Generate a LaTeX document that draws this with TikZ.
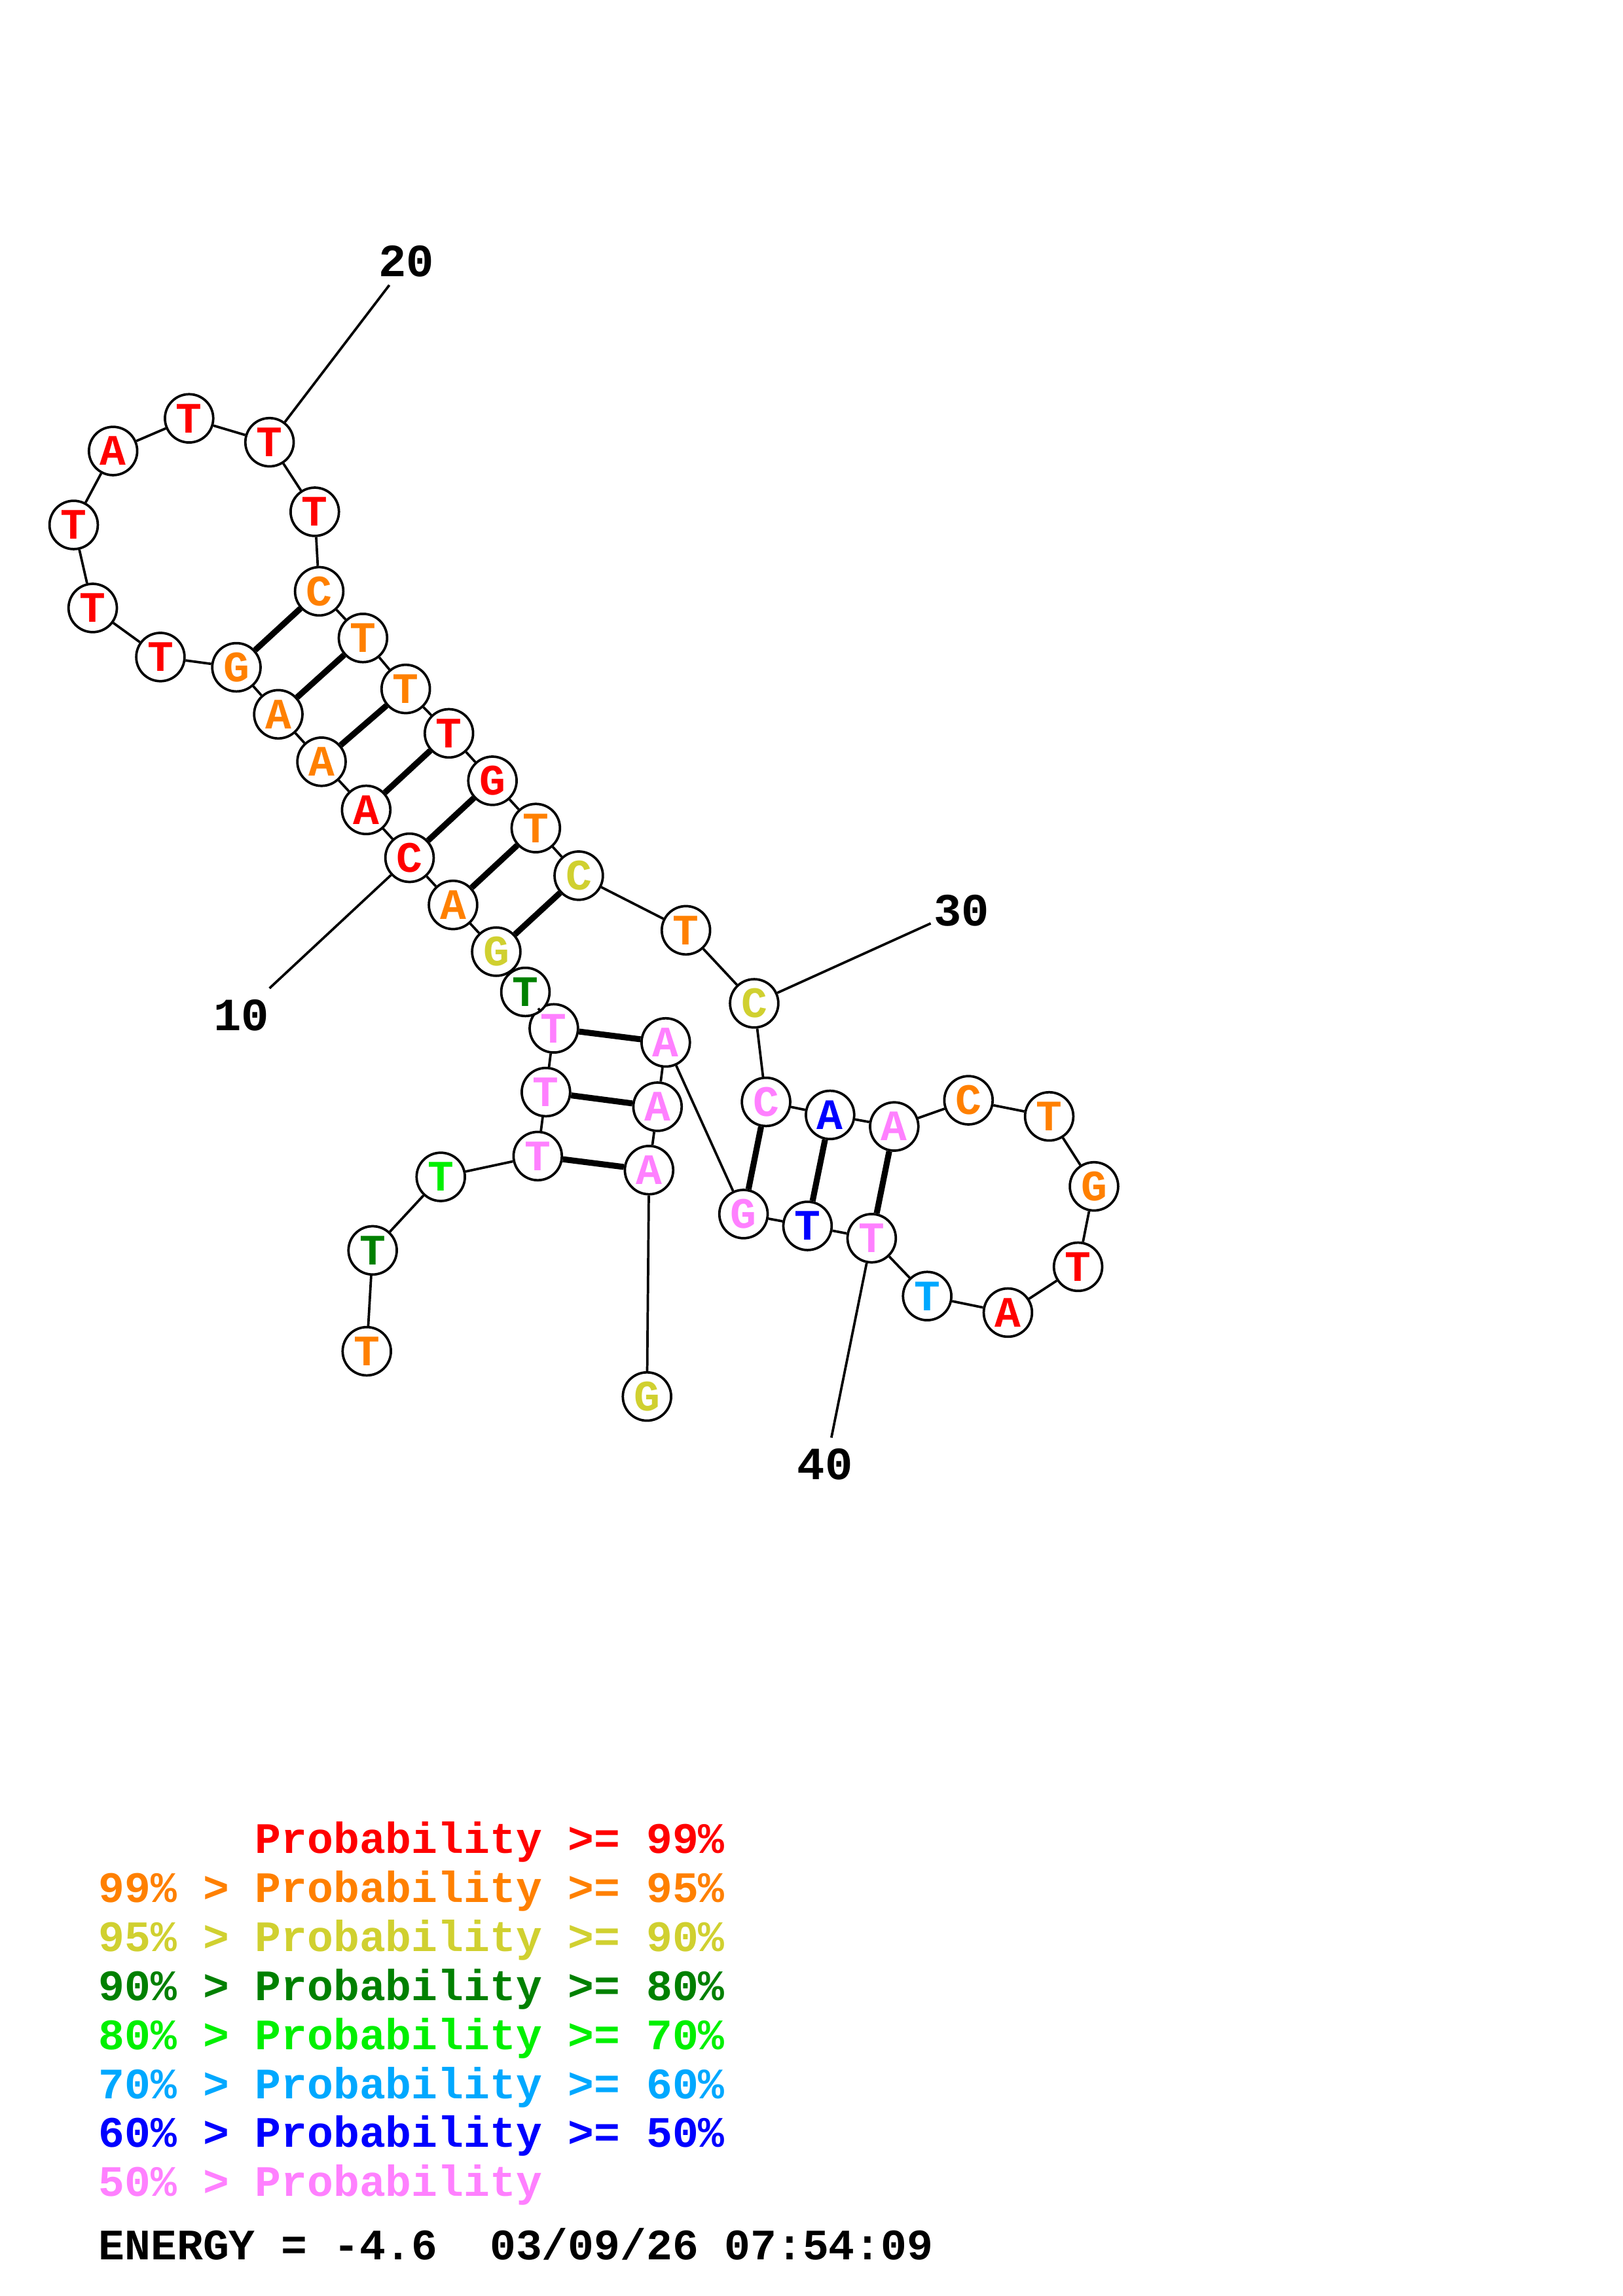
\documentclass[tikz,border=0pt]{standalone}
\usepackage{fontspec}
\setmonofont{Liberation Mono}
\usepackage{tikz}

\definecolor{pr99}{RGB}{255,0,0}
\definecolor{pr95}{RGB}{255,128,0}
\definecolor{pr90}{RGB}{208,208,48}
\definecolor{pr80}{RGB}{0,128,0}
\definecolor{pr70}{RGB}{0,240,0}
\definecolor{pr60}{RGB}{0,168,255}
\definecolor{pr50}{RGB}{0,0,255}
\definecolor{prlo}{RGB}{255,128,255}

\tikzset{
	nt/.style={circle, draw=black, line width=0.9pt, fill=white, minimum size=0.625cm, inner sep=0pt, font=\ttfamily\bfseries\fontsize{16}{16}\selectfont},
	backbone/.style={line width=0.9pt},
	bond/.style={line width=2.2pt},
	numlabel/.style={inner sep=0pt, font=\ttfamily\bfseries\fontsize{17}{17}\selectfont},
	legendline/.style={anchor=base west, inner sep=0pt, font=\ttfamily\bfseries\fontsize{16}{16}\selectfont}
}

\begin{document}
\frenchspacing
\begin{tikzpicture}[x=0.018953cm, y=-0.018953cm]
			%%%%% START %%%%%
			\useasboundingbox (0,0) rectangle (1108,1568);
			
			% 5' tail and inner stem
			\node[nt, text=pr95] (n1) at (250.4, 922.8) {T};
			\node[nt, text=pr80] (n2) at (254.4, 853.9) {T};
			\node[nt, text=pr70] (n3) at (300.9, 803.7) {T};
			\node[nt, text=prlo] (n4) at (367.1, 789.5) {T};
			\node[nt, text=prlo] (n5) at (372.7, 745.8) {T};
			\node[nt, text=prlo] (n6) at (378.1, 702.3) {T};
			\node[nt, text=pr80] (n7) at (358.7, 677.4) {T};
			\node[nt, text=pr90] (n8) at (338.8, 649.9) {G};
			\node[nt, text=pr95] (n9) at (309.3, 618.0) {A};
			\node[nt, text=pr99] (n10) at (279.6, 585.8) {C};
			\node[nt, text=pr99] (n11) at (250.0, 553.1) {A};
			\node[nt, text=pr95] (n12) at (219.5, 520.2) {A};
			\node[nt, text=pr95] (n13) at (190.0, 487.8) {A};
			\node[nt, text=pr95] (n14) at (161.4, 455.7) {G};
			
			% hairpin loop
			\node[nt, text=pr99] (n15) at (109.5, 448.7) {T};
			\node[nt, text=pr99] (n16) at (63.3, 415.2) {T};
			\node[nt, text=pr99] (n17) at (50.3, 358.5) {T};
			\node[nt, text=pr99] (n18) at (77.2, 308.0) {A};
			\node[nt, text=pr99] (n19) at (129.1, 285.7) {T};
			\node[nt, text=pr99] (n20) at (184.0, 302.0) {T};
			\node[nt, text=pr99] (n21) at (214.9, 349.5) {T};
			
			% long stem, other strand
			\node[nt, text=pr95] (n22) at (217.9, 403.8) {C};
			\node[nt, text=pr95] (n23) at (247.8, 435.7) {T};
			\node[nt, text=pr95] (n24) at (277.0, 470.5) {T};
			\node[nt, text=pr99] (n25) at (306.5, 500.8) {T};
			\node[nt, text=pr99] (n26) at (336.2, 533.2) {G};
			\node[nt, text=pr95] (n27) at (365.8, 565.5) {T};
			\node[nt, text=pr90] (n28) at (395.1, 598.0) {C};
			\node[nt, text=pr95] (n29) at (468.3, 635.3) {T};
			\node[nt, text=pr90] (n30) at (514.9, 685.2) {C};
			
			% right hairpin
			\node[nt, text=prlo] (n31) at (523.0, 752.5) {C};
			\node[nt, text=pr50] (n32) at (566.7, 761.4) {A};
			\node[nt, text=prlo] (n33) at (610.5, 769.3) {A};
			\node[nt, text=pr95] (n34) at (661.2, 751.4) {C};
			\node[nt, text=pr95] (n35) at (716.3, 762.4) {T};
			\node[nt, text=pr95] (n36) at (746.9, 810.2) {G};
			\node[nt, text=pr99] (n37) at (736.0, 865.1) {T};
			\node[nt, text=pr99] (n38) at (688.1, 896.4) {A};
			\node[nt, text=pr60] (n39) at (633.0, 885.1) {T};
			\node[nt, text=prlo] (n40) at (595.1, 845.6) {T};
			\node[nt, text=pr50] (n41) at (551.3, 837.2) {T};
			\node[nt, text=prlo] (n42) at (507.6, 829.1) {G};
			
			% 3' side
			\node[nt, text=prlo] (n43) at (454.5, 711.9) {A};
			\node[nt, text=prlo] (n44) at (448.9, 755.8) {A};
			\node[nt, text=prlo] (n45) at (443.1, 799.1) {A};
			\node[nt, text=pr90] (n46) at (441.7, 953.7) {G};
			
			% backbone
			\draw[backbone] (n1) -- (n2) -- (n3) -- (n4) -- (n5) -- (n6) -- (n7) -- (n8) -- (n9) -- (n10) -- (n11) -- (n12) -- (n13) -- (n14) -- (n15) -- (n16);
			\draw[backbone] (n16) -- (n17) -- (n18) -- (n19) -- (n20) -- (n21) -- (n22) -- (n23) -- (n24) -- (n25) -- (n26) -- (n27) -- (n28) -- (n29) -- (n30) -- (n31);
			\draw[backbone] (n31) -- (n32) -- (n33) -- (n34) -- (n35) -- (n36) -- (n37) -- (n38) -- (n39) -- (n40) -- (n41) -- (n42) -- (n43) -- (n44) -- (n45) -- (n46);
			
			% pairs
			\draw[bond] (n8) -- (n28);
			\draw[bond] (n9) -- (n27);
			\draw[bond] (n10) -- (n26);
			\draw[bond] (n11) -- (n25);
			\draw[bond] (n12) -- (n24);
			\draw[bond] (n13) -- (n23);
			\draw[bond] (n14) -- (n22);
			\draw[bond] (n4) -- (n45);
			\draw[bond] (n5) -- (n44);
			\draw[bond] (n6) -- (n43);
			\draw[bond] (n31) -- (n42);
			\draw[bond] (n32) -- (n41);
			\draw[bond] (n33) -- (n40);
			
			% numbering
			\coordinate (t10) at (184.0, 674.9);
			\coordinate (t20) at (265.8, 194.7);
			\coordinate (t30) at (635.4, 630.6);
			\coordinate (t40) at (567.6, 981.8);
			\draw[backbone] (n10) -- (t10);
			\draw[backbone] (n20) -- (t20);
			\draw[backbone] (n30) -- (t30);
			\draw[backbone] (n40) -- (t40);
			\node[numlabel] (l10) at (164.9, 693.5) {10};
			\node[numlabel] (l20) at (277.3, 178.3) {20};
			\node[numlabel] (l30) at (656.6, 622.0) {30};
			\node[numlabel] (l40) at (563.2, 1000.0) {40};
			
			% legend
			\node[legendline, text=pr99] (k99) at (67, 1265.5) {\hphantom{99\% > }Probability >= 99\%};
			\node[legendline, text=pr95] (k95) at (67, 1299.0) {99\% > Probability >= 95\%};
			\node[legendline, text=pr90] (k90) at (67, 1332.5) {95\% > Probability >= 90\%};
			\node[legendline, text=pr80] (k80) at (67, 1366.0) {90\% > Probability >= 80\%};
			\node[legendline, text=pr70] (k70) at (67, 1399.5) {80\% > Probability >= 70\%};
			\node[legendline, text=pr60] (k60) at (67, 1433.0) {70\% > Probability >= 60\%};
			\node[legendline, text=pr50] (k50) at (67, 1466.5) {60\% > Probability >= 50\%};
			\node[legendline, text=prlo] (klo) at (67, 1500.0) {50\% > Probability};
			\node[legendline, text=black] (energy) at (67, 1543.3) {ENERGY = -4.6\ \ 03/09/26 07:54:09};
			%%%%% END %%%%%
		\end{tikzpicture}
\end{document}
